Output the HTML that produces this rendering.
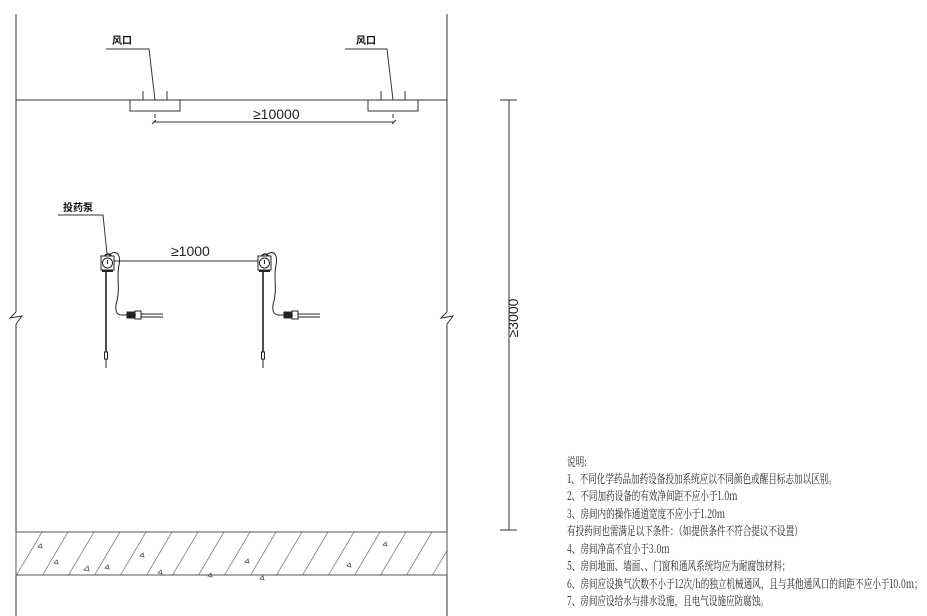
<!DOCTYPE html>
<html><head><meta charset="utf-8"><style>
html,body{margin:0;padding:0;background:#fff;}
svg{display:block;}
.cn{font-family:"Noto Serif CJK SC",serif;font-size:12px;fill:#222;}
.lb{font-family:"Liberation Sans","Noto Sans CJK SC",sans-serif;font-size:10px;font-weight:bold;fill:#111;}
.dm{font-family:"Liberation Sans",sans-serif;font-size:14px;fill:#222;}
</style></head><body>
<svg width="927" height="616" viewBox="0 0 927 616" xmlns="http://www.w3.org/2000/svg">
<defs>
<pattern id="h" width="26" height="44" patternUnits="userSpaceOnUse" patternTransform="translate(16,532)">
<line x1="0" y1="44" x2="26" y2="0" stroke="#777" stroke-width="0.8"/>
</pattern>
</defs>
<g stroke="#333" fill="none" stroke-width="1">
<line x1="16" y1="14" x2="16" y2="312"/>
<polyline points="16,312 10,318 22,316 16,324"/>
<line x1="16" y1="324" x2="16" y2="616"/>
<line x1="447" y1="14" x2="447" y2="312"/>
<polyline points="447,312 441,318 453,316 447,324"/>
<line x1="447" y1="324" x2="447" y2="616"/>
<line x1="16" y1="100" x2="447" y2="100"/>
<rect x="130" y="100" width="50" height="11"/>
<rect x="368" y="100" width="50" height="11"/>
<line x1="143" y1="91" x2="143" y2="100"/><line x1="167" y1="91" x2="167" y2="100"/>
<line x1="381" y1="91" x2="381" y2="100"/><line x1="405" y1="91" x2="405" y2="100"/>
<polyline points="106,49 149,49 155,100"/>
<polyline points="345,49 387,49 393,100"/>
<line x1="155" y1="114" x2="155" y2="118"/><line x1="393" y1="114" x2="393" y2="118"/>
<line x1="154" y1="122" x2="394" y2="122"/>
<line x1="152" y1="124" x2="156" y2="120"/><line x1="392" y1="124" x2="396" y2="120"/>
<line x1="509" y1="100" x2="509" y2="530"/>
<line x1="500" y1="100" x2="517" y2="100"/><line x1="500" y1="530" x2="517" y2="530"/>
<rect x="16" y="532" width="431" height="43" fill="url(#h)" stroke="#555"/>
<polyline points="58,215 103,215 107,254"/>
<line x1="113" y1="261" x2="258" y2="261"/>
</g>
<g stroke="#555" fill="none" stroke-width="0.8">
<path d="M38,547 l3,-3 l1,4z M54,563 l3,-3 l1,4z M84,570 l4,-4 l1,5z M105,568 l3,-3 l1,4z M140,556 l3,-3 l1,4z M158,573 l3,-3 l1,4z M208,576 l3,-3 l1,4z M245,562 l3,-3 l1,4z M260,579 l3,-3 l1,4z M347,566 l3,-3 l1,4z M383,545 l3,-3 l1,4z"/>
</g>
<g id="p" stroke="#222" fill="none" stroke-width="1">
<line x1="106" y1="270" x2="106" y2="352" stroke-width="1.6"/>
<rect x="104.5" y="352" width="3" height="7"/>
<line x1="106" y1="359" x2="106" y2="368"/>
<path d="M103,263 c0,-12 10,-12 10,0" stroke-width="1.5"/>
<path d="M109,255 c8,-6 12,0 10,10 c-3,14 2,22 -3,40 c-1,8 2,10 6,10" />
<rect x="101" y="256" width="13" height="14" fill="#fff"/>
<circle cx="107.5" cy="263" r="5"/>
<line x1="107.5" y1="260" x2="107.5" y2="264"/>
<line x1="102" y1="271" x2="113" y2="271" stroke-width="2"/>
<line x1="121" y1="315" x2="136" y2="315"/>
<rect x="127" y="312" width="8" height="6" fill="#222"/>
<rect x="135" y="311" width="6" height="8"/>
<line x1="141" y1="314" x2="163" y2="314"/><line x1="141" y1="317" x2="163" y2="317"/>
</g>
<use href="#p" x="157" y="0"/>
<text class="lb" x="112" y="44">风口</text>
<text class="lb" x="356" y="44">风口</text>
<text class="lb" x="63" y="211">投药泵</text>
<text class="dm" x="253" y="119">≥10000</text>
<text class="dm" x="171" y="256">≥1000</text>
<text class="dm" transform="translate(518,318) rotate(-90)" text-anchor="middle">≥3000</text>
<g class="cn" transform="translate(567,0) scale(0.715,1)">
<text x="0" y="466">说明:</text>
<text x="0" y="483">1、不同化学药品加药设备投加系统应以不同颜色或醒目标志加以区别。</text>
<text x="0" y="500">2、不同加药设备的有效净间距不应小于1.0m</text>
<text x="0" y="518">3、房间内的操作通道宽度不应小于1.20m</text>
<text x="0" y="535">有投药间也需满足以下条件：（如提供条件不符合提议不设置）</text>
<text x="0" y="553">4、房间净高不宜小于3.0m</text>
<text x="0" y="570">5、房间地面、墙面、、门窗和通风系统均应为耐腐蚀材料；</text>
<text x="0" y="588">6、房间应设换气次数不小于12次/h的独立机械通风，且与其他通风口的间距不应小于10.0m；</text>
<text x="0" y="605">7、房间应设给水与排水设施，且电气设施应防腐蚀。</text>
</g>
</svg>
</body></html>
